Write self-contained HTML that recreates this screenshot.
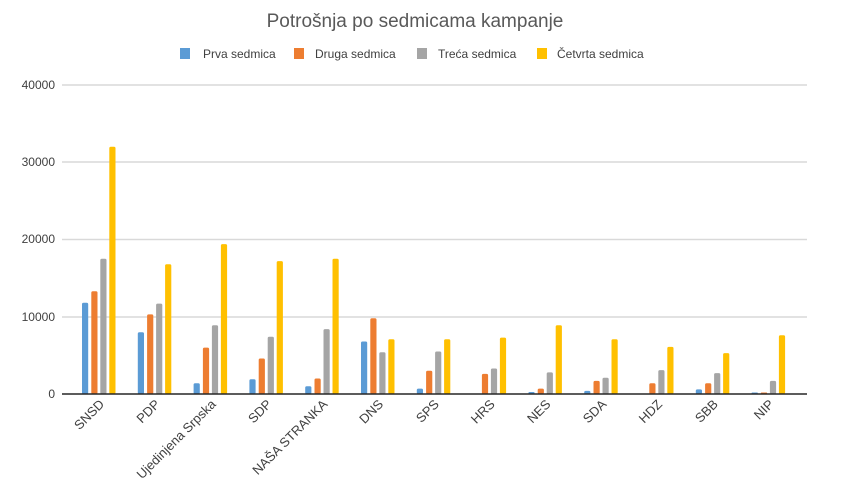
<!DOCTYPE html>
<html><head><meta charset="utf-8"><style>
html,body{margin:0;padding:0;background:#fff;}
svg{display:block;font-family:"Liberation Sans","DejaVu Sans",sans-serif;}
.a{fill:#5b9bd5}.b{fill:#ed7d31}.c{fill:#a5a5a5}.d{fill:#ffc000}
</style></head><body>
<svg width="842" height="483" viewBox="0 0 842 483" xmlns="http://www.w3.org/2000/svg">
<text x="415" y="27" text-anchor="middle" font-size="19" fill="#595959">Potrošnja po sedmicama kampanje</text>
<g font-size="12" fill="#404040">
<rect x="180" y="48" width="10" height="11" fill="#5b9bd5"/><text x="203" y="58">Prva sedmica</text>
<rect x="294" y="48" width="10" height="11" fill="#ed7d31"/><text x="315" y="58">Druga sedmica</text>
<rect x="417" y="48" width="10" height="11" fill="#a5a5a5"/><text x="438" y="58">Treća sedmica</text>
<rect x="537" y="48" width="10" height="11" fill="#ffc000"/><text x="557" y="58">Četvrta sedmica</text>
</g>
<g stroke="#d9d9d9" stroke-width="1.5">
<line x1="62" y1="85" x2="807" y2="85"/><line x1="62" y1="162" x2="807" y2="162"/>
<line x1="62" y1="239.5" x2="807" y2="239.5"/><line x1="62" y1="317" x2="807" y2="317"/>
</g>
<g font-size="12" fill="#404040" text-anchor="end">
<text x="55" y="89">40000</text><text x="55" y="166">30000</text><text x="55" y="243">20000</text><text x="55" y="321">10000</text><text x="55" y="398">0</text>
</g>
<g transform="translate(82,0)"><rect class="a" x="0" y="302.8" width="6.2" height="91.2" rx="1.5"/><rect class="b" x="9.3" y="291.3" width="6.2" height="102.7" rx="1.5"/><rect class="c" x="18.3" y="258.8" width="6.2" height="135.2" rx="1.5"/><rect class="d" x="27.3" y="146.8" width="6.2" height="247.2" rx="1.5"/></g>
<g transform="translate(137.8,0)"><rect class="a" x="0" y="332.2" width="6.2" height="61.8" rx="1.5"/><rect class="b" x="9.3" y="314.4" width="6.2" height="79.6" rx="1.5"/><rect class="c" x="18.3" y="303.6" width="6.2" height="90.4" rx="1.5"/><rect class="d" x="27.3" y="264.2" width="6.2" height="129.8" rx="1.5"/></g>
<g transform="translate(193.6,0)"><rect class="a" x="0" y="383.2" width="6.2" height="10.8" rx="1.5"/><rect class="b" x="9.3" y="347.6" width="6.2" height="46.4" rx="1.5"/><rect class="c" x="18.3" y="325.2" width="6.2" height="68.8" rx="1.5"/><rect class="d" x="27.3" y="244.1" width="6.2" height="149.9" rx="1.5"/></g>
<g transform="translate(249.4,0)"><rect class="a" x="0" y="379.3" width="6.2" height="14.7" rx="1.5"/><rect class="b" x="9.3" y="358.5" width="6.2" height="35.5" rx="1.5"/><rect class="c" x="18.3" y="336.8" width="6.2" height="57.2" rx="1.5"/><rect class="d" x="27.3" y="261.1" width="6.2" height="132.9" rx="1.5"/></g>
<g transform="translate(305.2,0)"><rect class="a" x="0" y="386.3" width="6.2" height="7.7" rx="1.5"/><rect class="b" x="9.3" y="378.5" width="6.2" height="15.5" rx="1.5"/><rect class="c" x="18.3" y="329.1" width="6.2" height="64.9" rx="1.5"/><rect class="d" x="27.3" y="258.8" width="6.2" height="135.2" rx="1.5"/></g>
<g transform="translate(361,0)"><rect class="a" x="0" y="341.5" width="6.2" height="52.5" rx="1.5"/><rect class="b" x="9.3" y="318.3" width="6.2" height="75.7" rx="1.5"/><rect class="c" x="18.3" y="352.3" width="6.2" height="41.7" rx="1.5"/><rect class="d" x="27.3" y="339.2" width="6.2" height="54.8" rx="1.5"/></g>
<g transform="translate(416.8,0)"><rect class="a" x="0" y="388.6" width="6.2" height="5.4" rx="1.5"/><rect class="b" x="9.3" y="370.8" width="6.2" height="23.2" rx="1.5"/><rect class="c" x="18.3" y="351.5" width="6.2" height="42.5" rx="1.5"/><rect class="d" x="27.3" y="339.2" width="6.2" height="54.8" rx="1.5"/></g>
<g transform="translate(472.6,0)"><rect class="b" x="9.3" y="373.9" width="6.2" height="20.1" rx="1.5"/><rect class="c" x="18.3" y="368.5" width="6.2" height="25.5" rx="1.5"/><rect class="d" x="27.3" y="337.6" width="6.2" height="56.4" rx="1.5"/></g>
<g transform="translate(528.4,0)"><rect class="a" x="0" y="392" width="6.2" height="2" rx="1"/><rect class="b" x="9.3" y="388.6" width="6.2" height="5.4" rx="1.5"/><rect class="c" x="18.3" y="372.4" width="6.2" height="21.6" rx="1.5"/><rect class="d" x="27.3" y="325.2" width="6.2" height="68.8" rx="1.5"/></g>
<g transform="translate(584.2,0)"><rect class="a" x="0" y="390.9" width="6.2" height="3.1" rx="1.5"/><rect class="b" x="9.3" y="380.9" width="6.2" height="13.1" rx="1.5"/><rect class="c" x="18.3" y="377.8" width="6.2" height="16.2" rx="1.5"/><rect class="d" x="27.3" y="339.2" width="6.2" height="54.8" rx="1.5"/></g>
<g transform="translate(640,0)"><rect class="b" x="9.3" y="383.2" width="6.2" height="10.8" rx="1.5"/><rect class="c" x="18.3" y="370.1" width="6.2" height="23.9" rx="1.5"/><rect class="d" x="27.3" y="346.9" width="6.2" height="47.1" rx="1.5"/></g>
<g transform="translate(695.8,0)"><rect class="a" x="0" y="389.4" width="6.2" height="4.6" rx="1.5"/><rect class="b" x="9.3" y="383.2" width="6.2" height="10.8" rx="1.5"/><rect class="c" x="18.3" y="373.1" width="6.2" height="20.9" rx="1.5"/><rect class="d" x="27.3" y="353.1" width="6.2" height="40.9" rx="1.5"/></g>
<g transform="translate(751.6,0)"><rect class="a" x="0" y="392.5" width="6.2" height="1.5" rx="0.7"/><rect class="b" x="9.3" y="392.5" width="6.2" height="1.5" rx="0.7"/><rect class="c" x="18.3" y="380.9" width="6.2" height="13.1" rx="1.5"/><rect class="d" x="27.3" y="335.3" width="6.2" height="58.7" rx="1.5"/></g>
<line x1="62" y1="394" x2="807" y2="394" stroke="#262626" stroke-width="1.5"/>
<g font-size="13" fill="#404040" text-anchor="end">
<text transform="translate(105,405) rotate(-45)">SNSD</text>
<text transform="translate(160.8,405) rotate(-45)">PDP</text>
<text transform="translate(216.6,405) rotate(-45)">Ujedinjena Srpska</text>
<text transform="translate(272.4,405) rotate(-45)">SDP</text>
<text transform="translate(328.2,405) rotate(-45)">NAŠA STRANKA</text>
<text transform="translate(384,405) rotate(-45)">DNS</text>
<text transform="translate(439.8,405) rotate(-45)">SPS</text>
<text transform="translate(495.6,405) rotate(-45)">HRS</text>
<text transform="translate(551.4,405) rotate(-45)">NES</text>
<text transform="translate(607.2,405) rotate(-45)">SDA</text>
<text transform="translate(663,405) rotate(-45)">HDZ</text>
<text transform="translate(718.8,405) rotate(-45)">SBB</text>
<text transform="translate(774.6,405) rotate(-45)">NIP</text>
</g>
</svg>
</body></html>
